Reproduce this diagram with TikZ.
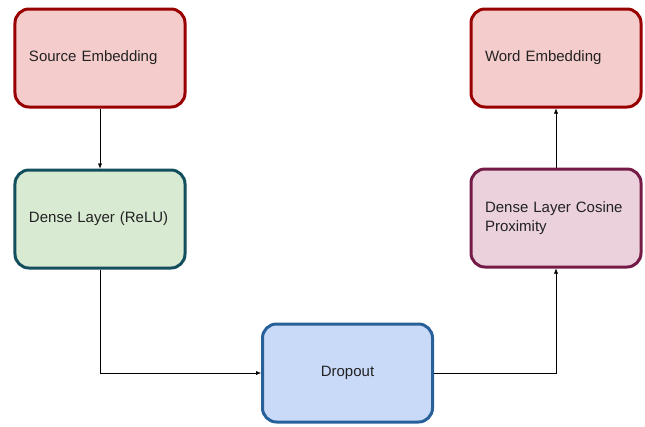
\documentclass[tikz,border=0pt]{standalone}
\usepackage{fontspec}
\setmainfont{Liberation Sans}
\usepackage{tikz}
\usetikzlibrary{arrows.meta}

\definecolor{srcfill}{HTML}{F4CCCC}
\definecolor{srcline}{HTML}{990000}
\definecolor{relufill}{HTML}{D9EAD3}
\definecolor{reluline}{HTML}{134F5C}
\definecolor{cosfill}{HTML}{EAD1DC}
\definecolor{cosline}{HTML}{741B47}
\definecolor{dropfill}{HTML}{C9DAF8}
\definecolor{dropline}{HTML}{28609A}
\definecolor{txt}{HTML}{222222}

\begin{document}
\begin{tikzpicture}[x=1bp,y=-1bp,>={Latex[length=5bp,width=4bp]},
  layer/.style={draw, rectangle, rounded corners=14bp, line width=3bp,
    text width=142bp, inner xsep=14bp, minimum height=98bp, align=left,
    text=txt, font=\fontsize{15bp}{18.5bp}\selectfont}]
  \useasboundingbox (0,0) rectangle (645,426);

  \node[layer, fill=srcfill, draw=srcline] (src) at (100,58) {Source Embedding};
  \node[layer, fill=relufill, draw=reluline] (relu) at (100,219) {Dense Layer (ReLU)};
  \node[layer, fill=srcfill, draw=srcline] (word) at (556,58) {Word Embedding};
  \node[layer, fill=cosfill, draw=cosline] (cos) at (556,218) {Dense Layer Cosine Proximity};
  \node[layer, fill=dropfill, draw=dropline, align=center] (drop) at (347.5,373) {Dropout};

  \draw[->] (src) -- (relu);
  \draw[->] (relu) |- (drop);
  \draw[->] (drop) -| (cos);
  \draw[->] (cos) -- (word);
\end{tikzpicture}
\end{document}
